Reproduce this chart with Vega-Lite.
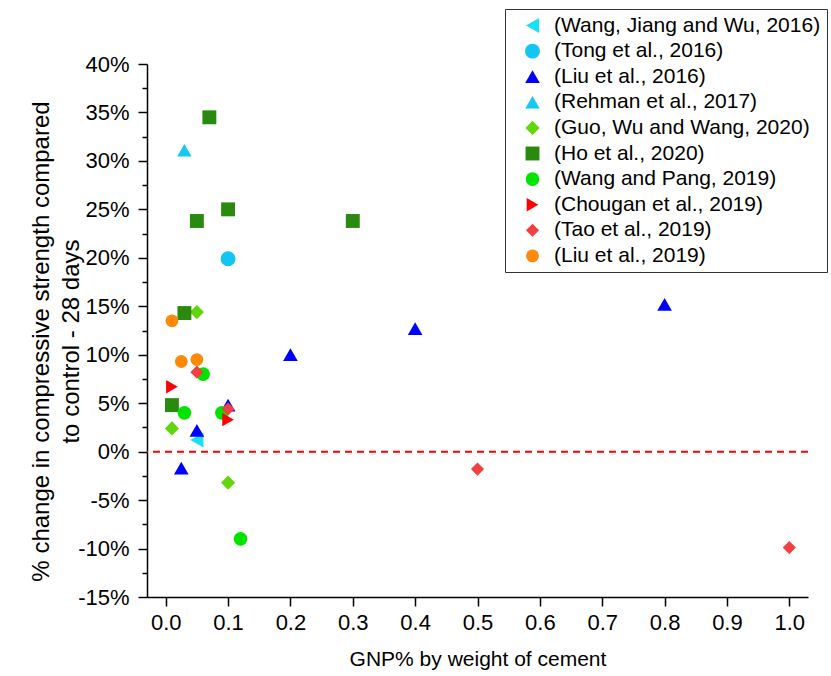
{
  "$schema": "https://vega.github.io/schema/vega-lite/v6.json",
  "width": 661,
  "height": 533,
  "autosize": {"type": "none"},
  "padding": {"left": 147, "top": 64, "right": 23, "bottom": 79},
  "background": "white",
  "config": {
    "font": "Liberation Sans",
    "view": {"stroke": null},
    "axis": {
      "labelFont": "Liberation Sans",
      "titleFont": "Liberation Sans",
      "labelColor": "#000",
      "titleColor": "#000",
      "domainColor": "#000",
      "tickColor": "#000",
      "grid": false,
      "titleFontWeight": "normal",
      "domainWidth": 1.5,
      "tickWidth": 1.5
    }
  },
  "datasets": {
    "points": [
      {"study": "(Wang, Jiang and Wu, 2016)", "gnp": 0.05, "change": 1.2},
      {"study": "(Tong et al., 2016)", "gnp": 0.1, "change": 19.9},
      {"study": "(Liu et al., 2016)", "gnp": 0.025, "change": -1.7},
      {"study": "(Liu et al., 2016)", "gnp": 0.05, "change": 2.2},
      {"study": "(Liu et al., 2016)", "gnp": 0.1, "change": 4.8},
      {"study": "(Liu et al., 2016)", "gnp": 0.2, "change": 10.0},
      {"study": "(Liu et al., 2016)", "gnp": 0.4, "change": 12.7},
      {"study": "(Liu et al., 2016)", "gnp": 0.8, "change": 15.2},
      {"study": "(Rehman et al., 2017)", "gnp": 0.03, "change": 31.1},
      {"study": "(Guo, Wu and Wang, 2020)", "gnp": 0.01, "change": 2.4},
      {"study": "(Guo, Wu and Wang, 2020)", "gnp": 0.05, "change": 14.4},
      {"study": "(Guo, Wu and Wang, 2020)", "gnp": 0.1, "change": -3.2},
      {"study": "(Ho et al., 2020)", "gnp": 0.01, "change": 4.8},
      {"study": "(Ho et al., 2020)", "gnp": 0.03, "change": 14.3},
      {"study": "(Ho et al., 2020)", "gnp": 0.05, "change": 23.8},
      {"study": "(Ho et al., 2020)", "gnp": 0.07, "change": 34.5},
      {"study": "(Ho et al., 2020)", "gnp": 0.1, "change": 25.0},
      {"study": "(Ho et al., 2020)", "gnp": 0.3, "change": 23.8},
      {"study": "(Wang and Pang, 2019)", "gnp": 0.03, "change": 4.0},
      {"study": "(Wang and Pang, 2019)", "gnp": 0.06, "change": 8.0},
      {"study": "(Wang and Pang, 2019)", "gnp": 0.09, "change": 4.0},
      {"study": "(Wang and Pang, 2019)", "gnp": 0.12, "change": -9.0},
      {"study": "(Chougan et al., 2019)", "gnp": 0.01, "change": 6.7},
      {"study": "(Chougan et al., 2019)", "gnp": 0.1, "change": 3.3},
      {"study": "(Tao et al., 2019)", "gnp": 0.05, "change": 8.2},
      {"study": "(Tao et al., 2019)", "gnp": 0.1, "change": 4.4},
      {"study": "(Tao et al., 2019)", "gnp": 0.5, "change": -1.8},
      {"study": "(Tao et al., 2019)", "gnp": 1.0, "change": -9.9},
      {"study": "(Liu et al., 2019)", "gnp": 0.01, "change": 13.5},
      {"study": "(Liu et al., 2019)", "gnp": 0.025, "change": 9.3},
      {"study": "(Liu et al., 2019)", "gnp": 0.05, "change": 9.5}
    ]
  },
  "resolve": {"axis": {"y": "independent"}},
  "layer": [
    {
      "data": {"values": [{"zero": 0}]},
      "mark": {"type": "rule", "color": "#ff0000", "strokeDash": [7, 5], "strokeWidth": 2},
      "encoding": {
        "y": {
          "field": "zero",
          "type": "quantitative",
          "scale": {"domain": [-15, 40], "nice": false, "zero": false},
          "axis": {
            "orient": "left",
            "values": [-12.5, -7.5, -2.5, 2.5, 7.5, 12.5, 17.5, 22.5, 27.5, 32.5, 37.5],
            "labels": false,
            "domain": false,
            "tickSize": 5,
            "title": null
          }
        }
      }
    },
    {
      "data": {"name": "points"},
      "mark": {"type": "point", "filled": true, "opacity": 1},
      "encoding": {
        "x": {
          "field": "gnp",
          "type": "quantitative",
          "scale": {"domain": [-0.03, 1.03], "nice": false, "zero": false},
          "axis": {
            "values": [0, 0.1, 0.2, 0.3, 0.4, 0.5, 0.6, 0.7, 0.8, 0.9, 1.0],
            "format": ".1f",
            "labelFontSize": 22,
            "tickSize": 9,
            "labelPadding": 6,
            "title": "GNP% by weight of cement",
            "titleFontSize": 21,
            "titlePadding": 15
          }
        },
        "y": {
          "field": "change",
          "type": "quantitative",
          "scale": {"domain": [-15, 40], "nice": false, "zero": false},
          "axis": {
            "orient": "left",
            "values": [-15, -10, -5, 0, 5, 10, 15, 20, 25, 30, 35, 40],
            "labelExpr": "datum.value + '%'",
            "labelFontSize": 22,
            "tickSize": 9,
            "labelPadding": 9,
            "title": ["% change in compressive strength compared", "to control - 28 days"],
            "titleFontSize": 24,
            "titleLineHeight": 30,
            "titlePadding": -6,
            "titleY": 277
          }
        },
        "color": {
          "field": "study",
          "type": "nominal",
          "scale": {
            "domain": ["(Wang, Jiang and Wu, 2016)", "(Tong et al., 2016)", "(Liu et al., 2016)", "(Rehman et al., 2017)", "(Guo, Wu and Wang, 2020)", "(Ho et al., 2020)", "(Wang and Pang, 2019)", "(Chougan et al., 2019)", "(Tao et al., 2019)", "(Liu et al., 2019)"],
            "range": ["#19e0f5", "#12c5f2", "#0000ff", "#14c8f0", "#62d60a", "#2a8a10", "#00e400", "#ff0000", "#f04040", "#ff8a0a"]
          },
          "legend": {
            "orient": "none",
            "legendX": 358,
            "legendY": -55,
            "title": null,
            "padding": 6,
            "strokeColor": "#333",
            "fillColor": "white",
            "labelFontSize": 21,
            "labelFont": "Liberation Sans",
            "labelColor": "#000",
            "symbolSize": 170,
            "symbolOffset": 11,
            "labelOffset": 11,
            "rowPadding": 3.6,
            "labelLimit": 400
          }
        },
        "shape": {
          "field": "study",
          "type": "nominal",
          "scale": {
            "domain": ["(Wang, Jiang and Wu, 2016)", "(Tong et al., 2016)", "(Liu et al., 2016)", "(Rehman et al., 2017)", "(Guo, Wu and Wang, 2020)", "(Ho et al., 2020)", "(Wang and Pang, 2019)", "(Chougan et al., 2019)", "(Tao et al., 2019)", "(Liu et al., 2019)"],
            "range": ["triangle-left", "circle", "triangle-up", "triangle-up", "diamond", "square", "circle", "triangle-right", "diamond", "circle"]
          }
        },
        "size": {
          "field": "study",
          "type": "nominal",
          "scale": {
            "domain": ["(Wang, Jiang and Wu, 2016)", "(Tong et al., 2016)", "(Liu et al., 2016)", "(Rehman et al., 2017)", "(Guo, Wu and Wang, 2020)", "(Ho et al., 2020)", "(Wang and Pang, 2019)", "(Chougan et al., 2019)", "(Tao et al., 2019)", "(Liu et al., 2019)"],
            "range": [230, 165, 225, 225, 290, 144, 165, 240, 290, 170]
          },
          "legend": null
        }
      }
    }
  ]
}
